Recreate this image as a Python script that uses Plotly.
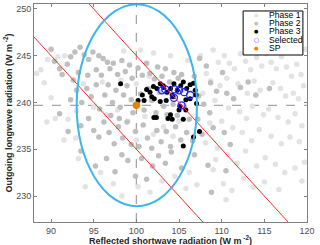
import plotly.graph_objects as go

# ---------------- data ----------------
phase1_x = [88.3, 88.8, 89.6, 90.8, 91.6, 89.2, 90.0, 92.0, 93.0, 89.5,
            107.5, 108.2, 109.0, 109.6, 110.3, 110.9, 111.5, 112.2, 112.8, 113.4,
            114.1, 114.7, 115.2, 115.8, 116.4, 117.0, 117.6, 118.2, 118.8, 119.3,
            119.8, 108.7, 109.8, 110.6, 111.9, 113.0, 113.8, 114.5, 116.0, 116.9,
            117.5, 118.4, 119.0, 119.6, 107.8, 109.2, 110.8, 112.1, 112.9, 113.6,
            114.9, 115.5, 116.6, 117.8, 118.6, 119.4, 108.6, 110.0, 111.3, 112.4,
            113.5, 114.4, 115.8, 117.0, 118.0, 119.1, 119.7, 108.1, 109.5, 110.7,
            111.8, 112.8, 114.1, 115.1, 116.3, 117.4, 118.6, 119.4, 109.0, 110.2,
            111.2, 112.6, 113.7, 115.0, 116.7, 110.5, 109.3, 107.1, 106.2,
            94.0, 93.2, 95.8, 97.3, 98.3, 100.2, 101.6, 103.0, 104.5, 105.8,
            91.5, 90.5, 92.9, 96.5, 97.8, 99.0, 100.0, 101.0, 102.0, 103.2,
            104.3, 105.0, 95.0, 93.8, 96.0, 98.2, 100.0, 101.5, 103.5, 105.5,
            106.0, 104.0, 102.0, 100.5, 98.5]
phase1_y = [243.1, 243.5, 244.6, 244.9, 245.0, 242.1, 240.5, 238.2, 239.1, 237.9,
            245.0, 243.1, 245.6, 244.3, 245.0, 244.2, 243.6, 245.2, 244.4, 243.5,
            244.8, 243.9, 245.2, 244.3, 243.6, 244.9, 243.8, 242.8, 244.1, 243.0,
            245.7, 242.3, 241.8, 242.6, 242.0, 241.0, 242.3, 241.3, 242.1, 241.5,
            240.7, 241.0, 240.4, 241.8, 241.0, 240.2, 239.4, 239.0, 238.3, 239.6,
            238.7, 239.3, 238.4, 237.9, 238.8, 237.5, 237.8, 238.0, 237.3, 236.8,
            235.9, 237.1, 236.4, 235.6, 236.3, 235.8, 233.6, 235.7, 235.1, 234.4,
            233.5, 234.8, 233.2, 234.1, 233.4, 232.5, 233.0, 231.6, 232.8, 231.3,
            230.6, 231.9, 230.9, 231.5, 230.7, 229.6, 233.9, 231.2, 232.5,
            231.0, 234.0, 232.5, 231.3, 230.0, 231.0, 230.4, 231.6, 232.1, 230.8,
            236.0, 238.3, 236.2, 238.7, 239.2, 238.0, 236.0, 238.5, 236.6, 237.4,
            236.4, 238.0, 239.5, 242.0, 242.2, 242.4, 242.0, 242.8, 241.0, 241.3,
            244.5, 245.0, 245.3, 245.6, 245.5]

phase2_x = [90.0, 90.4, 91.0, 91.3, 91.9, 92.3, 92.8, 93.4, 93.9, 94.4,
            94.9, 95.6, 96.1, 96.6, 93.2, 92.6, 94.3, 95.3, 95.9, 96.9,
            97.3, 97.8, 98.3, 98.7, 99.2, 99.5, 100.2, 100.7, 101.2, 101.6,
            102.1, 102.5, 103.0, 103.4, 103.9, 104.4, 104.9, 105.3,
            91.0, 92.3, 93.0, 93.6, 94.2, 94.7, 95.3, 95.7, 96.3, 96.7,
            97.2, 97.6, 98.1, 98.5, 98.9, 99.4, 99.6, 100.5, 100.9, 101.4,
            101.8, 102.3, 102.7, 103.2, 103.6, 104.3, 104.8, 105.6, 106.2,
            92.0, 93.5, 94.4, 95.0, 95.6, 96.2, 96.8, 97.4, 97.9, 98.4,
            98.9, 99.4, 99.9, 100.3, 100.8, 101.3, 101.8, 102.4, 102.9, 103.5,
            104.0, 104.6, 105.2, 105.9, 106.6, 97.0, 98.0,
            97.5, 98.3, 99.0, 99.9, 100.6, 101.2, 101.9, 102.6, 103.4, 104.1,
            105.3, 106.8, 108.4, 93.5, 96.5, 95.2,
            106.8, 107.4, 108.2, 108.7, 109.4, 110.1, 110.6, 111.4, 112.2, 113.1,
            114.0, 115.6, 107.3, 107.9, 108.6, 109.0, 107.7, 110.3, 111.0, 108.8,
            110.5, 107.2]
phase2_y = [245.7, 244.4, 243.6, 243.0, 244.1, 244.9, 245.4, 245.9, 245.1, 244.6,
            245.4, 245.0, 244.7, 244.3, 243.2, 242.4, 242.9, 243.5, 242.9, 243.6,
            244.2, 243.0, 244.5, 243.3, 244.0, 242.6, 243.7, 242.9, 244.2, 243.1,
            242.5, 243.8, 242.8, 243.6, 242.2, 243.2, 242.6, 243.0,
            238.8, 240.3, 241.3, 240.0, 241.5, 240.6, 241.9, 239.3, 240.8, 241.9,
            240.0, 241.3, 239.5, 240.8, 241.8, 240.3, 238.9, 240.9, 239.2, 241.5,
            240.2, 238.9, 241.1, 239.6, 238.7, 239.8, 238.6, 239.5, 238.2,
            236.9, 237.5, 238.3, 237.0, 236.3, 237.9, 236.8, 235.6, 237.4, 236.2,
            237.9, 235.5, 236.9, 235.3, 237.6, 236.2, 235.1, 237.0, 235.8, 236.9,
            235.3, 237.4, 236.0, 236.8, 235.9, 238.6, 238.3,
            232.6, 234.4, 233.8, 232.1, 234.0, 231.8, 233.2, 234.3, 233.5, 234.7,
            233.0, 234.4, 233.3, 234.8, 234.0, 233.2,
            242.8, 244.7, 243.9, 242.1, 241.2, 243.2, 241.0, 240.4, 241.6, 242.2,
            240.8, 241.5, 240.7, 239.8, 238.9, 237.3, 236.6, 236.8, 235.5, 230.4,
            232.7, 238.2]

phase3_x = [98.15, 100.2, 100.7, 101.2, 101.6, 102.0, 102.4, 102.8, 103.2, 103.6,
            104.0, 104.4, 104.8, 105.2, 105.5, 105.9, 106.3, 106.7, 106.9, 107.0,
            102.1, 102.8, 103.5, 104.3, 105.1, 105.8, 106.3, 102.05, 102.35, 103.7,
            104.2, 105.5, 105.0, 105.8, 104.0, 106.7, 107.4, 105.5, 107.05, 103.15,
            104.2, 101.8, 100.9]
phase3_y = [242.0, 240.2, 240.8, 241.4, 241.1, 241.7, 241.5, 242.0, 241.6, 241.1,
            241.5, 242.0, 241.3, 241.8, 242.2, 241.5, 241.9, 242.05, 241.3, 240.8,
            240.4, 240.1, 240.2, 240.6, 239.6, 240.3, 240.4, 238.4, 238.4, 238.3,
            238.2, 238.2, 239.2, 239.2, 238.7, 236.3, 236.9, 235.35, 239.9, 241.8,
            240.8, 240.6, 240.2]

selected_x = [103.0, 103.4, 104.5, 105.0, 105.6, 106.3, 104.4, 105.3]
selected_y = [241.3, 241.4, 241.4, 241.3, 241.1, 240.8, 240.5, 239.7]

sp_x = [100.0]
sp_y = [239.7]

# ellipse (centre and semi-axes) and constant-sum lines
ell_cx, ell_cy, ell_ax, ell_ay = 100.05, 239.7, 7.05, 10.8
line_sums = [335.0, 345.0]

x_range = [88, 120]
y_range = [227.22, 250.53]
x_ticks = [90, 95, 100, 105, 110, 115, 120]
y_ticks = [230, 235, 240, 245, 250]

x_title = "Reflected shortwave radiation (W m<sup> -2</sup>)"
y_title = "Outgoing longwave radiation (W m<sup> -2</sup>)"

FONT = "Liberation Sans, Arial, sans-serif"

series = [
    dict(name="Phase 1", x=phase1_x, y=phase1_y, color="#e3e3e3", size=5.5, symbol="circle", glyph="●"),
    dict(name="Phase 2", x=phase2_x, y=phase2_y, color="#bfbfbf", size=5.5, symbol="circle", glyph="●"),
    dict(name="Phase 3", x=phase3_x, y=phase3_y, color="#000000", size=5, symbol="circle", glyph="●"),
    dict(name="Selected", x=selected_x, y=selected_y, color="#1f1fff", size=7, symbol="circle-open", glyph="○"),
    dict(name="SP", x=sp_x, y=sp_y, color="#e8820c", size=7.5, symbol="circle", glyph="●"),
]

fig = go.Figure()
for s in series:
    if s["symbol"] == "circle-open":
        marker = dict(color=s["color"], size=s["size"], symbol="circle-open", line=dict(width=1.3, color=s["color"]))
    else:
        marker = dict(color=s["color"], size=s["size"], symbol="circle", line=dict(width=0))
    fig.add_trace(go.Scatter(x=s["x"], y=s["y"], mode="markers", name=s["name"],
                             marker=marker, showlegend=False, hoverinfo="skip"))

shapes = []
shapes.append(dict(type="line", xref="x", yref="y", x0=sp_x[0], x1=sp_x[0], y0=y_range[0], y1=y_range[1],
                   line=dict(color="#a6a6a6", width=1.3, dash="dash"), layer="below"))
shapes.append(dict(type="line", xref="x", yref="y", x0=x_range[0], x1=x_range[1], y0=sp_y[0], y1=sp_y[0],
                   line=dict(color="#a6a6a6", width=1.3, dash="dash"), layer="below"))
for c in line_sums:
    xa = max(x_range[0], c - y_range[1])
    xb = min(x_range[1], c - y_range[0])
    shapes.append(dict(type="line", xref="x", yref="y", x0=xa, y0=c - xa, x1=xb, y1=c - xb,
                       line=dict(color="#ff2a2a", width=1), layer="above"))
shapes.append(dict(type="circle", xref="x", yref="y",
                   x0=ell_cx - ell_ax, x1=ell_cx + ell_ax, y0=ell_cy - ell_ay, y1=ell_cy + ell_ay,
                   line=dict(color="#3db6ea", width=2), layer="above"))

lx0, lx1, ly0, ly1 = 0.766, 0.985, 0.766, 0.968
shapes.append(dict(type="rect", xref="paper", yref="paper", x0=lx0, x1=lx1, y0=ly0, y1=ly1,
                   line=dict(color="#000000", width=1), fillcolor="white", layer="above"))

annotations = []
row_y = [0.950, 0.912, 0.874, 0.836, 0.798]
for s, ry in zip(series, row_y):
    annotations.append(dict(xref="paper", yref="paper", x=0.815, y=ry, text=s["glyph"], showarrow=False,
                            xanchor="center", yanchor="middle",
                            font=dict(family="DejaVu Sans", size=5 if s["glyph"] == "●" else 6, color=s["color"])))
    annotations.append(dict(xref="paper", yref="paper", x=0.852, y=ry, text=s["name"], showarrow=False,
                            xanchor="left", yanchor="middle",
                            font=dict(family=FONT, size=8.6, color="#000000")))

# x-axis title placed as an annotation just under the tick labels
annotations.append(dict(xref="paper", yref="paper", x=0.5, y=0, yshift=-10, xanchor="center", yanchor="top",
                        text="<b>" + x_title + "</b>", showarrow=False,
                        font=dict(family=FONT, size=9, color="#262626")))

axis_common = dict(showline=True, linecolor="#808080", linewidth=1, mirror="ticks", ticks="inside",
                   ticklen=3, tickcolor="#808080", showgrid=False, zeroline=False, automargin=False,
                   tickfont=dict(family=FONT, size=9, color="#4d4d4d"))

fig.update_layout(
    width=320, height=245,
    margin=dict(l=34, r=13, t=4, b=23, pad=0),
    paper_bgcolor="white", plot_bgcolor="white",
    showlegend=False,
    shapes=shapes, annotations=annotations,
    xaxis=dict(range=x_range, tickvals=x_ticks, **axis_common),
    yaxis=dict(range=y_range, tickvals=y_ticks, **axis_common,
               title=dict(text=y_title, font=dict(family=FONT, size=9, color="#262626", weight="bold"), standoff=2)),
)

fig.write_html("out.html", config={"displayModeBar": False},
               post_script="document.body.style.margin='0';document.body.style.padding='0';")
